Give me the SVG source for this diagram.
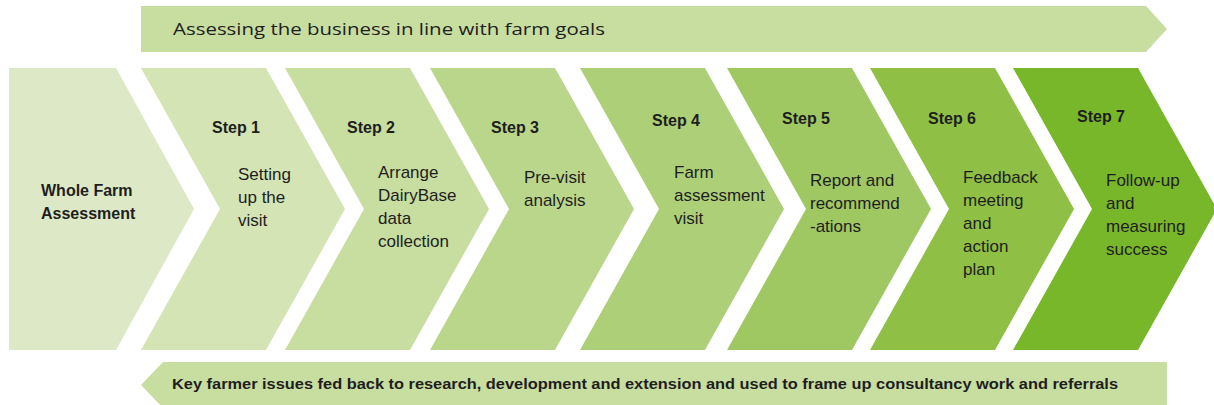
<svg xmlns="http://www.w3.org/2000/svg" width="1214" height="405" viewBox="0 0 1214 405">
<style>
.t{font-family:"Liberation Sans",Arial,sans-serif;font-size:17px;fill:#1e1e1e}
.s{font-family:"Liberation Sans",Arial,sans-serif;font-size:16px;font-weight:bold;fill:#1e1e1e}
.b{font-family:"Liberation Sans",Arial,sans-serif;font-size:15px;font-weight:bold;fill:#1e1e1e}
.h{font-family:"Open Sans","Liberation Sans",sans-serif;font-size:17px;fill:#1e1e1e}
.band{fill:#c8dda0}
</style>
<rect width="1214" height="405" fill="#ffffff"/>
<g id="top-arrow">
<polygon class="band" points="141,6 1146,6 1167,29 1146,52 141,52"/>
<text class="h" x="173" y="35" textLength="432" lengthAdjust="spacingAndGlyphs">Assessing the business in line with farm goals</text>
</g>
<g id="whole-farm">
<polygon fill="#dde9c6" points="9,68 116,68 194,209 116,350 9,350"/>
<text class="s" x="41" y="196">Whole Farm</text>
<text class="s" x="41" y="219">Assessment</text>
</g>
<g id="step1">
<polygon fill="#d4e4b5" points="141,68 266,68 345,209 266,350 141,350 220,209"/>
<text class="s" x="212" y="133">Step 1</text>
<text class="t" x="238" y="180">Setting</text>
<text class="t" x="238" y="203">up the</text>
<text class="t" x="238" y="226">visit</text>
</g>
<g id="step2">
<polygon fill="#c8dda0" points="285,68 410,68 489,209 410,350 285,350 364,209"/>
<text class="s" x="347" y="133">Step 2</text>
<text class="t" x="378" y="178">Arrange</text>
<text class="t" x="378" y="201">DairyBase</text>
<text class="t" x="378" y="224">data</text>
<text class="t" x="378" y="247">collection</text>
</g>
<g id="step3">
<polygon fill="#bad68b" points="430,68 555,68 634,209 555,350 430,350 509,209"/>
<text class="s" x="491" y="133">Step 3</text>
<text class="t" x="524" y="183">Pre-visit</text>
<text class="t" x="524" y="206">analysis</text>
</g>
<g id="step4">
<polygon fill="#adcf78" points="580,68 705,68 784,209 705,350 580,350 659,209"/>
<text class="s" x="652" y="126">Step 4</text>
<text class="t" x="674" y="178">Farm</text>
<text class="t" x="674" y="201">assessment</text>
<text class="t" x="674" y="224">visit</text>
</g>
<g id="step5">
<polygon fill="#9fc762" points="727,68 852,68 931,209 852,350 727,350 806,209"/>
<text class="s" x="782" y="124">Step 5</text>
<text class="t" x="810" y="186">Report and</text>
<text class="t" x="810" y="209">recommend</text>
<text class="t" x="810" y="232">-ations</text>
</g>
<g id="step6">
<polygon fill="#8fbf45" points="870,68 995,68 1074,209 995,350 870,350 949,209"/>
<text class="s" x="928" y="124">Step 6</text>
<text class="t" x="963" y="183">Feedback</text>
<text class="t" x="963" y="206">meeting</text>
<text class="t" x="963" y="229">and</text>
<text class="t" x="963" y="252">action</text>
<text class="t" x="963" y="275">plan</text>
</g>
<g id="step7">
<polygon fill="#79b72a" points="1013,68 1138,68 1217,209 1138,350 1013,350 1092,209"/>
<text class="s" x="1077" y="122">Step 7</text>
<text class="t" x="1106" y="186">Follow-up</text>
<text class="t" x="1106" y="209">and</text>
<text class="t" x="1106" y="232">measuring</text>
<text class="t" x="1106" y="255">success</text>
</g>
<g id="bottom-arrow">
<polygon class="band" points="141,385 163,362 1167,362 1167,408 163,408"/>
<text class="b" x="172" y="389" textLength="946" lengthAdjust="spacingAndGlyphs">Key farmer issues fed back to research, development and extension and used to frame up consultancy work and referrals</text>
</g>
<g id="connectors"></g>
</svg>
